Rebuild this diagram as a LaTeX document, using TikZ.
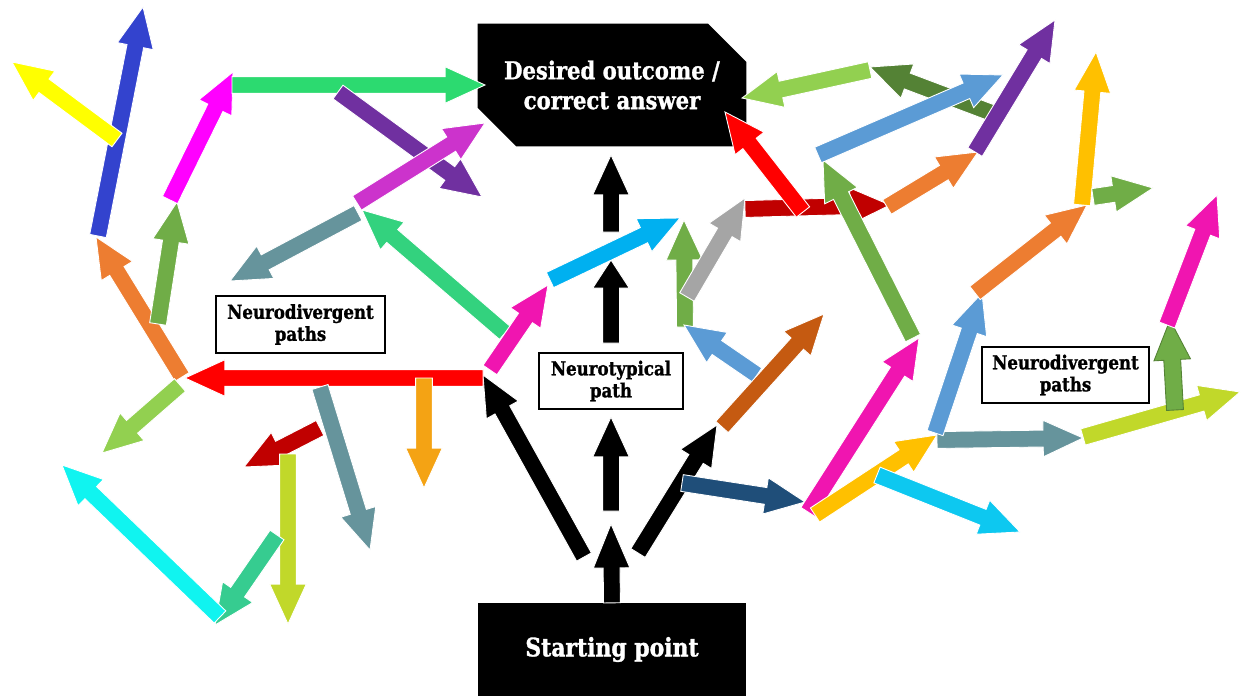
\documentclass[tikz,border=0pt]{standalone}
\usepackage{fontspec}
\setmainfont{DejaVu Serif}[FakeStretch=0.86,BoldFeatures={FakeBold=1.2}]
\usetikzlibrary{calc,shapes.misc}

\definecolor{ndblue}{HTML}{3343CE}
\definecolor{ndyellow}{HTML}{FFFF00}
\definecolor{ndmagenta}{HTML}{FF00FF}
\definecolor{ndmint}{HTML}{2CDA70}
\definecolor{ndpurple}{HTML}{7030A0}
\definecolor{ndorchid}{HTML}{CC33CC}
\definecolor{ndteal}{HTML}{66949C}
\definecolor{ndemerald}{HTML}{33D27E}
\definecolor{ndorange}{HTML}{ED7D31}
\definecolor{ndgreen}{HTML}{70AD47}
\definecolor{ndred}{HTML}{FF0000}
\definecolor{ndlight}{HTML}{92D050}
\definecolor{ndcyan}{HTML}{10F4F0}
\definecolor{ndsea}{HTML}{36CC90}
\definecolor{ndlime}{HTML}{C1D82A}
\definecolor{nddarkred}{HTML}{C00000}
\definecolor{ndamber}{HTML}{F4A314}
\definecolor{ndsky}{HTML}{00B0F0}
\definecolor{ndpink}{HTML}{F015B0}
\definecolor{ndgray}{HTML}{A5A5A5}
\definecolor{ndnavy}{HTML}{1F4E79}
\definecolor{ndbrown}{HTML}{C55A11}
\definecolor{ndsoft}{HTML}{5B9BD5}
\definecolor{nddark}{HTML}{548235}
\definecolor{ndgold}{HTML}{FFC000}
\definecolor{ndaqua}{HTML}{0DC8F0}

% block arrow: [head length]{fill}{tail}{tip}
\newcommand{\flowarrow}[4][22.7pt]{%
  \coordinate (fa-t) at #3;
  \coordinate (fa-h) at #4;
  \coordinate (fa-b) at ($(fa-h)!#1!(fa-t)$);
  \filldraw[draw=white, line width=0.5pt, fill=#2]
    ($(fa-t)!4.8pt!90:(fa-h)$) -- ($(fa-b)!4.8pt!-90:(fa-t)$)
    -- ($(fa-b)!10.4pt!-90:(fa-t)$) -- (fa-h)
    -- ($(fa-b)!10.4pt!90:(fa-t)$) -- ($(fa-b)!4.8pt!90:(fa-t)$)
    -- ($(fa-t)!4.8pt!-90:(fa-h)$) -- cycle;
}

\begin{document}
\begin{tikzpicture}[x=0.02cm,y=-0.02cm,
    goal box/.style={chamfered rectangle,chamfered rectangle corners={north east,south west},
      chamfered rectangle sep=11pt,fill=black,text=white,align=center,inner sep=0pt,
      minimum width=153pt,minimum height=70pt,font=\bfseries\fontsize{14}{17}\selectfont},
    start box/.style={rectangle,fill=black,text=white,inner sep=0pt,
      minimum width=153pt,minimum height=52.7pt,font=\bfseries\fontsize{14.5}{17}\selectfont},
    path box/.style={rectangle,draw=black,line width=1.1pt,fill=white,align=center,inner sep=0pt,
      minimum height=32pt,font=\bfseries\fontsize{11}{12.5}\selectfont}]

  \useasboundingbox (0,0) rectangle (1241,696);

  \node[goal box] (goal) at (612,85) {Desired outcome /\\correct answer};
  \node[start box] (start) at (612,649.5) {Starting point};
  \node[path box,minimum width=81.6pt] (nt) at (611,381) {Neurotypical\\path};
  \node[path box,minimum width=95.8pt] (ndleft) at (300.5,324.5) {Neurodivergent\\paths};
  \node[path box,minimum width=94.7pt] (ndright) at (1065.5,375) {Neurodivergent\\paths};

  % neurotypical path
  \flowarrow[25pt]{black}{(start.north)}{(611,524)}
  \flowarrow{black}{(611,511)}{(611,417)}
  \flowarrow[16pt]{black}{(611,343)}{(611,260)}
  \flowarrow{black}{(611,232)}{(611,155)}
  \flowarrow{black}{(584,557)}{(483,375)}
  \flowarrow{black}{(638,553)}{(717,425)}

  % left side
  \flowarrow{ndorange}{(182,377)}{(96,237)}
  \flowarrow{ndblue}{(98,236)}{(143,7)}
  \flowarrow{ndyellow}{(117,140)}{(12,62)}
  \flowarrow{ndgreen}{(158,324)}{(177,202)}
  \flowarrow{ndmagenta}{(170,200)}{(233,72)}
  \flowarrow{ndmint}{(232,85)}{(485,85)}
  \flowarrow{ndpurple}{(338,92)}{(482,197)}
  \flowarrow{ndemerald}{(505,333)}{(362,210)}
  \flowarrow{ndteal}{(358,213)}{(230,281)}
  \flowarrow{ndorchid}{(357,203)}{(485,123)}
  \flowarrow{ndlight}{(180,385)}{(102,453)}
  \flowarrow{ndpink}{(490,370)}{(548,285)}
  \flowarrow{ndred}{(483,378)}{(185,378)}
  \flowarrow{ndamber}{(424,378)}{(424,488)}
  \flowarrow{ndteal}{(320,387)}{(370,550)}
  \flowarrow{nddarkred}{(320,428)}{(244,467)}
  \flowarrow{ndlime}{(288,454)}{(288,624)}
  \flowarrow{ndsea}{(277,535)}{(215,625)}
  \flowarrow{ndcyan}{(220,617)}{(62,465)}

  % middle
  \flowarrow{ndsky}{(550,280)}{(680,218)}
  \flowarrow{ndgreen}{(685,327)}{(684,220)}
  \flowarrow{ndgray}{(687,297)}{(745,198)}
  \flowarrow{ndsoft}{(757,375)}{(684,325)}
  \flowarrow{ndbrown}{(722,427)}{(824,314)}
  \flowarrow{ndnavy}{(682,483)}{(805,502)}
  \flowarrow{nddarkred}{(745,209)}{(890,205)}
  \flowarrow{ndred}{(803,212)}{(725,112)}
  \flowarrow{ndgreen}{(913,338)}{(823,160)}
  \flowarrow{ndlight}{(870,70)}{(742,98)}
  \flowarrow{nddark}{(992,113)}{(870,67)}
  \flowarrow{ndsoft}{(818,155)}{(1003,75)}
  \flowarrow{ndorange}{(887,207)}{(978,152)}
  \flowarrow{ndpurple}{(975,152)}{(1055,20)}

  % right side
  \flowarrow{ndpink}{(808,512)}{(919,338)}
  \flowarrow{ndgold}{(815,515)}{(937,435)}
  \flowarrow{ndaqua}{(877,475)}{(1020,532)}
  \flowarrow{ndteal}{(937,440)}{(1083,438)}
  \flowarrow{ndsoft}{(935,433)}{(982,293)}
  \flowarrow{ndorange}{(975,293)}{(1087,205)}
  \flowarrow{ndgold}{(1082,205)}{(1096,52)}
  \flowarrow{ndgreen}{(1093,197)}{(1153,188)}
  \flowarrow{ndlime}{(1083,437)}{(1240,392)}
  \flowarrow{ndgreen,draw=nddark}{(1175,410)}{(1170,320)}
  \flowarrow{ndpink}{(1167,325)}{(1217,195)}
\end{tikzpicture}
\end{document}
